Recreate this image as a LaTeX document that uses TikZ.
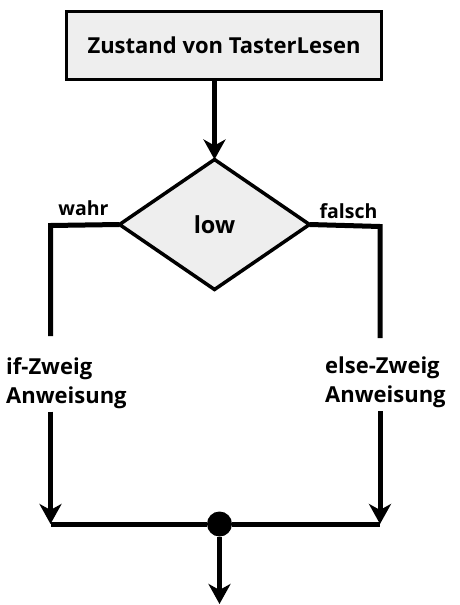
\documentclass[tikz,border=0pt]{standalone}
\usepackage{fontspec}
\setmainfont{Open Sans}
\usetikzlibrary{shapes.geometric,arrows.meta}
\definecolor{boxgray}{HTML}{EEEEEE}
\tikzset{
  flow/.style={line width=5pt, line join=miter},
  arr/.style={flow, -{Stealth[length=20pt,width=22pt,inset=6pt]}},
  titlebox/.style={draw, line width=3.5pt, fill=boxgray, minimum width=315pt, minimum height=68pt, inner sep=0pt, font=\bfseries\fontsize{22}{26}\selectfont},
  decision/.style={diamond, draw, line width=3.5pt, fill=boxgray, minimum width=190pt, minimum height=130pt, inner sep=0pt, outer sep=0pt, font=\bfseries\fontsize{23.5}{27}\selectfont},
  small/.style={font=\bfseries\fontsize{19.5}{22}\selectfont, inner sep=0pt},
  branch/.style={font=\bfseries\fontsize{22}{29}\selectfont, align=left, inner sep=0pt, anchor=north west},
  joint/.style={circle, fill=black, minimum size=25pt, inner sep=0pt},
}
\begin{document}
\begin{tikzpicture}[x=1pt,y=-1pt]
\useasboundingbox (0,0) rectangle (460,605);
\node[titlebox] (title) at (224,45.5) {Zustand von TasterLesen};
\node[decision] (d) at (214.5,224.5) {low};
\node[small, anchor=base] (wahr) at (83.5,215) {wahr};
\node[small, anchor=base] (falsch) at (348.5,218) {falsch};
\node[branch] (ifn) at (6,357) {if-Zweig\\Anweisung};
\node[branch] (elsen) at (325,357) {else-Zweig\\Anweisung};
\coordinate (cl) at (50.5,225.5);
\coordinate (cr) at (380,226.5);
\coordinate (bl) at (50.5,524);
\coordinate (br) at (380,524);
\node[joint] (dot) at (219.5,524) {};
\coordinate (end) at (219.5,604);
\draw[arr] (d.north |- title.south) -- (d.north);
\draw[flow] (d.west) -- (cl) -- ([yshift=21pt]cl |- ifn.north);
\draw[flow] (d.east) -- (cr) -- ([yshift=19pt]cr |- elsen.north);
\draw[arr] ([yshift=-3pt]cl |- ifn.south) -- (bl);
\draw[arr] ([yshift=-3pt]cr |- elsen.south) -- (br);
\draw[flow] (bl) -- (dot) -- (br);
\draw[arr] (dot) -- (end);
\end{tikzpicture}
\end{document}
